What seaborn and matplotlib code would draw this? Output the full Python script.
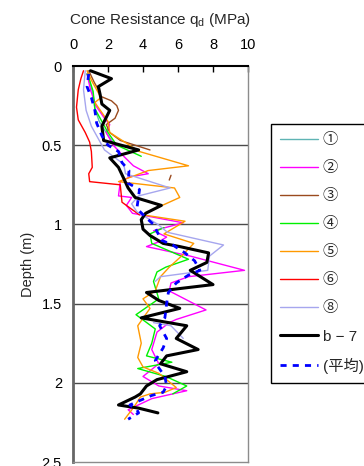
import numpy as np
import pandas as pd
import matplotlib
matplotlib.use("Agg")
import matplotlib.pyplot as plt
import seaborn as sns

# Cone resistance q_d (MPa) against depth (m); None marks a break in a trace
depth_1 = [0.03, 0.10, 0.18, 0.27, 0.35, 0.43, 0.50]
qd_1 = [0.85, 0.95, 1.15, 1.25, 1.5, 1.95, 2.4]

depth_2 = [0.05, 0.15, 0.25, 0.33, 0.37, 0.42, 0.50, 0.57, 0.63, 0.68, 0.70, 0.73, 0.82, 0.83, 0.88,
           0.93, 0.99, 1.04, 1.08, 1.11, 1.14, 1.20, 1.29, 1.33, 1.37, 1.42, 1.54, 1.60, 1.62, 1.68,
           1.79, 1.88, 1.96, 2.02, 2.05, 2.10, 2.17, 2.20]
qd_2 = [0.8, 1.0, 1.3, 1.8, 2.1, 1.9, 2.3, 2.9, 3.45, 4.3, 3.25, 2.7, 2.6, 3.35, 3.05,
        3.4, 6.3, 4.6, 5.35, 4.9, 4.2, 6.7, 9.8, 6.6, 5.6, 5.5, 7.6, 5.9, 5.5, 4.8,
        4.5, 4.9, 4.0, 4.9, 6.5, 4.5, 3.15, 3.45]

depth_3 = [0.03, 0.10, 0.15, 0.19, 0.22, 0.25, 0.28, 0.33, 0.37, 0.42, 0.47, 0.53, None, 0.69, 0.72]
qd_3 = [0.9, 1.2, 1.45, 1.55, 2.2, 2.5, 2.6, 2.4, 1.9, 2.1, 2.7, 4.4, None, 5.6, 5.5]

depth_4 = [0.05, 0.09, 0.16, 0.27, 0.33, 0.42, 0.50, 0.57, None, 1.02, 1.06, 1.12, 1.22, 1.27, 1.30,
           1.36, 1.47, 1.57, 1.66, 1.75, 1.83, 1.87, 1.91, 1.96, 2.02, 2.07]
qd_4 = [0.8, 0.95, 1.15, 1.25, 1.55, 2.0, 2.5, 3.9, None, 5.2, 4.4, 4.5, 6.6, 5.3, 4.8,
        4.6, 4.9, 3.6, 4.7, 4.5, 4.2, 5.65, 3.7, 5.3, 6.5, 5.7]

depth_5 = [0.03, 0.10, 0.20, 0.23, 0.35, 0.42, 0.54, 0.63, 0.66, 0.73, 0.77, 0.83, 0.88, 0.94, 0.98,
           1.06, 1.12, 1.20, 1.27, 1.33, 1.42, 1.47, 1.53, 1.64, 1.75, 1.84, 1.90, 1.94, 2.03, 2.06,
           2.07, 2.09, 2.15, 2.23]
qd_5 = [0.8, 1.1, 1.6, 1.25, 2.0, 2.1, 3.8, 6.6, 4.3, 2.6, 5.8, 6.1, 5.1, 4.0, 6.4,
        5.2, 6.9, 6.2, 5.5, 5.0, 4.7, 4.0, 4.4, 3.7, 3.9, 3.7, 4.0, 4.9, 5.9, 5.25,
        4.4, 3.85, 3.5, 2.95]

depth_6 = [0.03, 0.08, 0.15, 0.26, 0.34, 0.42, 0.48, 0.54, 0.64, 0.68, 0.73, 0.75, 0.86, 0.90, 0.94]
qd_6 = [0.6, 0.45, 0.3, 0.2, 0.3, 0.7, 0.95, 1.05, 1.1, 0.9, 0.95, 2.7, 2.8, 3.3, 3.8]

depth_8 = [0.03, 0.15, 0.28, 0.38, 0.46, 0.53, 0.62, 0.68, 0.77, 0.82, 0.87, 0.92, 1.00, 1.05, 1.13,
           1.20, 1.29, 1.33, 1.36, None, 1.62, 1.64, 1.72]
qd_8 = [0.7, 0.6, 0.75, 1.05, 1.45, 1.8, 2.9, 3.0, 5.55, 3.75, 3.35, 3.65, 4.85, 5.4, 8.6,
        7.8, 7.7, 5.0, 4.7, None, 4.6, 5.6, 6.3]

depth_b7 = [0.03, 0.08, 0.13, 0.18, 0.24, 0.28, 0.38, 0.47, 0.53, 0.58, 0.64, 0.71, 0.77, 0.83, 0.88,
            0.93, 0.97, 1.03, 1.07, 1.12, 1.14, 1.18, 1.24, 1.29, 1.38, 1.43, 1.48, 1.53, 1.59, 1.64,
            1.72, 1.79, 1.83, 1.88, 1.93, 1.98, 2.02, 2.07, 2.09, 2.14, 2.16, 2.19]
qd_b7 = [1.0, 2.2, 1.45, 1.55, 1.65, 2.1, 1.65, 1.75, 3.75, 2.1, 2.6, 2.9, 3.15, 3.55, 5.05,
         4.15, 3.9, 4.0, 4.4, 5.15, 6.1, 7.75, 7.65, 6.7, 8.0, 4.2, 4.9, 6.1, 3.9, 6.5,
         5.9, 7.15, 5.35, 5.0, 6.5, 4.8, 4.2, 3.85, 3.55, 2.6, 3.75, 4.85]

depth_mean = [0.05, 0.13, 0.20, 0.28, 0.36, 0.44, 0.50, 0.54, 0.61, 0.66, 0.74, 0.78, 0.90, 0.96, 1.00,
              1.10, 1.13, 1.18, 1.23, 1.29, 1.32, 1.37, 1.43, 1.50, 1.59, 1.64, 1.72, 1.78, 1.86, 1.89,
              1.96, 2.02, 2.06, 2.08, 2.12, 2.14, 2.17, 2.19, 2.23]
qd_mean = [0.9, 0.8, 1.05, 1.25, 1.35, 1.65, 2.0, 2.6, 2.8, 3.2, 3.15, 3.8, 3.65, 4.2, 4.6,
           5.05, 5.7, 6.4, 6.95, 7.25, 6.6, 5.9, 5.45, 5.35, 5.25, 4.95, 5.35, 5.15, 4.7, 4.8,
           5.25, 5.35, 5.15, 4.5, 3.65, 3.25, 3.65, 3.75, 3.15]

labels = ["①", "②", "③", "④", "⑤", "⑥", "⑧", "b − 7", "(平均)"]
x_ticks = [0, 2, 4, 6, 8, 10]
y_ticks = [0, 0.5, 1, 1.5, 2, 2.5]

series = [
    (depth_1, qd_1, "#5FB4B4", 1.0, "-"),
    (depth_2, qd_2, "#FF00FF", 1.0, "-"),
    (depth_3, qd_3, "#9A4A1E", 1.0, "-"),
    (depth_4, qd_4, "#00F000", 1.0, "-"),
    (depth_5, qd_5, "#FF9900", 1.0, "-"),
    (depth_6, qd_6, "#FF0000", 1.0, "-"),
    (depth_8, qd_8, "#A6A6EE", 1.0, "-"),
    (depth_b7, qd_b7, "#000000", 2.2, "-"),
    (depth_mean, qd_mean, "#0000FF", 2.0, (0, (2.2, 2.2))),
]

sns.set_style("white")
plt.rcParams["font.family"] = ["Liberation Sans", "Noto Sans CJK JP", "DejaVu Sans"]
plt.rcParams["mathtext.fontset"] = "custom"
plt.rcParams["mathtext.rm"] = "Liberation Sans"
plt.rcParams["mathtext.it"] = "Liberation Sans"

fig = plt.figure(figsize=(3.64, 4.66), dpi=100)
ax = fig.add_axes([73 / 364, 1 - 462 / 466, 175 / 364, 396 / 466])


def segments(depths, values):
    seg, cur = [], ([], [])
    for d, v in zip(depths, values):
        if d is None:
            if cur[0]:
                seg.append(cur)
            cur = ([], [])
        else:
            cur[0].append(d)
            cur[1].append(v)
    if cur[0]:
        seg.append(cur)
    return seg


handles = []
for (dep, val, color, lw, ls), name in zip(series, labels):
    for d, v in segments(dep, val):
        df = pd.DataFrame({"qd": v, "depth": d})
        sns.lineplot(data=df, x="qd", y="depth", orient="y", sort=False, estimator=None,
                     color=color, lw=lw, linestyle=ls, ax=ax, legend=False)
    handles.append(plt.Line2D([], [], color=color, lw=lw, linestyle=ls, label=name))

ax.set_xlim(0, 10)
ax.set_ylim(2.5, 0)
ax.xaxis.tick_top()
ax.xaxis.set_label_position("top")
ax.set_xticks(x_ticks)
ax.set_xticklabels([str(t) for t in x_ticks])
ax.set_yticks(y_ticks)
ax.set_yticklabels(["0", "0.5", "1", "1.5", "2", "2.5"])
ax.tick_params(axis="x", direction="in", length=4, width=1, pad=10, labelsize=10.5, colors="black")
ax.tick_params(axis="y", direction="in", length=3, width=1, pad=8, labelsize=10.5, colors="black")
ax.set_xlabel("Cone Resistance q$_\\mathrm{d}$ (MPa)", fontsize=11, labelpad=10)
ax.set_ylabel("Depth (m)", fontsize=10.5, labelpad=5)

for y in [0.5, 1.0, 1.5, 2.0]:
    ax.axhline(y, color="#4A4A4A", lw=1.0, zorder=0.5)

ax.spines["left"].set_color("#666666")
ax.spines["left"].set_linewidth(2.0)
ax.spines["top"].set_color("black")
ax.spines["top"].set_linewidth(1.5)
ax.spines["right"].set_color("#8C8C8C")
ax.spines["right"].set_linewidth(1.0)
ax.spines["bottom"].set_color("#8C8C8C")
ax.spines["bottom"].set_linewidth(1.0)

leg = fig.legend(handles=handles, loc="upper left", bbox_to_anchor=(271 / 364, 1 - 124 / 466),
                 frameon=True, fancybox=False, framealpha=1, edgecolor="black",
                 fontsize=11, handlelength=2.5, handletextpad=0.3, labelspacing=0.92,
                 borderpad=0.6, borderaxespad=0)
leg.get_frame().set_linewidth(1.0)

fig.savefig("out.png", dpi=100)
